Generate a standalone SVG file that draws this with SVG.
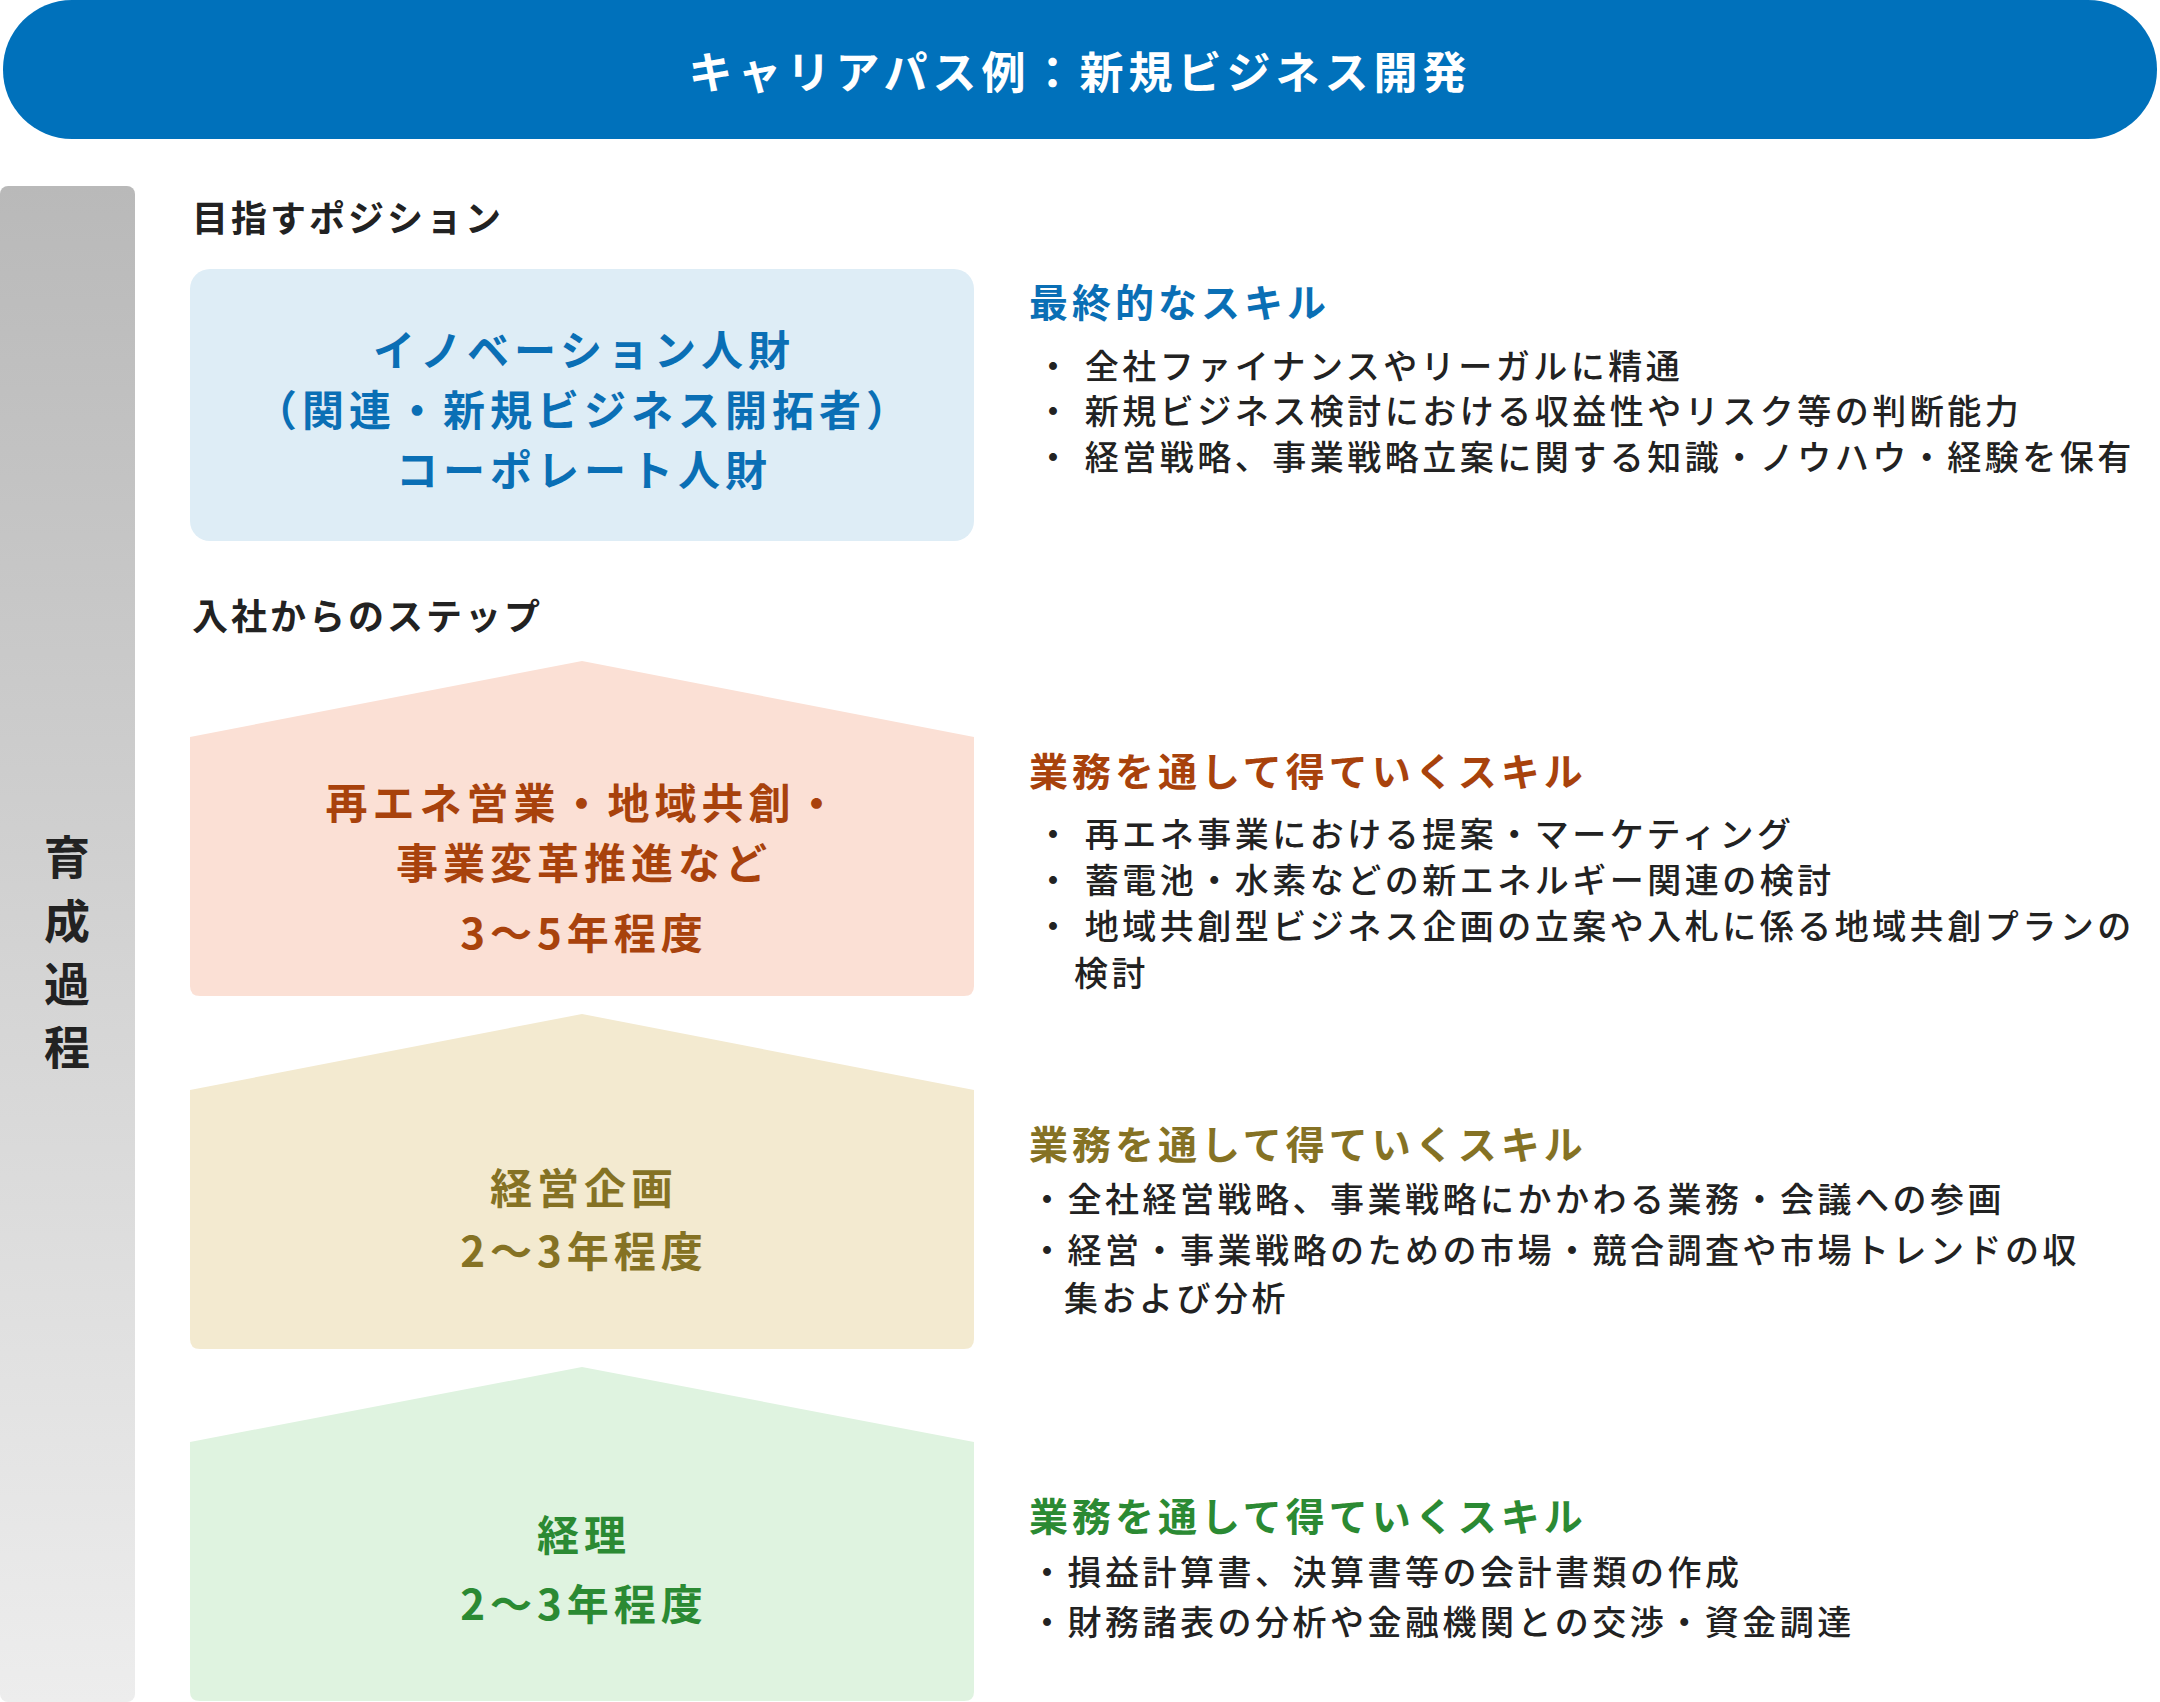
<svg xmlns="http://www.w3.org/2000/svg" width="2160" height="1702" viewBox="0 0 2160 1702">
<style>
text{font-family:"Noto Sans CJK JP","Noto Sans",sans-serif;font-weight:700;dominant-baseline:central}
.sec{font-size:36px;fill:#222;letter-spacing:3px}
.nd{font-size:42px;text-anchor:middle;letter-spacing:5px}
.hd{font-size:39px;letter-spacing:4px}
.bl{font-size:34px;fill:#222;letter-spacing:3.5px;font-weight:500}
</style>
<defs>
<linearGradient id="g" x1="0" y1="0" x2="0" y2="1"><stop offset="0" stop-color="#b9b9b9"/><stop offset="1" stop-color="#ededed"/></linearGradient>
</defs>
<rect width="2160" height="1702" fill="#fff"/>
<g id="header"><rect x="3" y="0" width="2154" height="139" rx="69" fill="#0071bb"/>
<text x="1080" y="70" text-anchor="middle" font-size="44" fill="#fff" letter-spacing="5">キャリアパス例：新規ビジネス開発</text></g>
<g id="bar"><rect x="0" y="186" width="135" height="1516" rx="8" fill="url(#g)"/>
<text x="67" y="854" text-anchor="middle" font-size="46" fill="#222">育</text>
<text x="67" y="918" text-anchor="middle" font-size="46" fill="#222">成</text>
<text x="67" y="981" text-anchor="middle" font-size="46" fill="#222">過</text>
<text x="67" y="1044" text-anchor="middle" font-size="46" fill="#222">程</text></g>
<text class="sec" x="192" y="216">目指すポジション</text>
<text class="sec" x="192" y="614">入社からのステップ</text>
<g id="goal"><rect x="190" y="269" width="784" height="272" rx="20" fill="#deedf6"/>
<text class="nd" fill="#0a6fb5" x="584" y="347">イノベーション人財</text>
<text class="nd" fill="#0a6fb5" x="584" y="407">（関連・新規ビジネス開拓者）</text>
<text class="nd" fill="#0a6fb5" x="584" y="467">コーポレート人財</text></g>
<g id="step3"><path d="M190 737 L582 661 L974 737 V986 Q974 996 964 996 H200 Q190 996 190 986 Z" fill="#fbe0d5"/>
<text class="nd" fill="#a8420c" x="584" y="800">再エネ営業・地域共創・</text>
<text class="nd" fill="#a8420c" x="584" y="860">事業変革推進など</text>
<text class="nd" fill="#a8420c" x="584" y="930">3～5年程度</text></g>
<g id="step2"><path d="M190 1090 L582 1014 L974 1090 V1339 Q974 1349 964 1349 H200 Q190 1349 190 1339 Z" fill="#f3ead0"/>
<text class="nd" fill="#857224" x="584" y="1185">経営企画</text>
<text class="nd" fill="#857224" x="584" y="1248">2～3年程度</text></g>
<g id="step1"><path d="M190 1442 L582 1367 L974 1442 V1692 Q974 1701 964 1701 H200 Q190 1701 190 1692 Z" fill="#dff3e0"/>
<text class="nd" fill="#2b8a33" x="584" y="1532">経理</text>
<text class="nd" fill="#2b8a33" x="584" y="1601">2～3年程度</text></g>
<g id="skills-goal">
<text class="hd" fill="#0a6fb5" x="1029" y="300">最終的なスキル</text>
<text class="bl" x="1036" y="364">・ 全社ファイナンスやリーガルに精通</text>
<text class="bl" x="1036" y="409">・ 新規ビジネス検討における収益性やリスク等の判断能力</text>
<text class="bl" x="1036" y="455">・ 経営戦略、事業戦略立案に関する知識・ノウハウ・経験を保有</text></g>
<g id="skills-3">
<text class="hd" fill="#a8420c" x="1029" y="769">業務を通して得ていくスキル</text>
<text class="bl" x="1036" y="832">・ 再エネ事業における提案・マーケティング</text>
<text class="bl" x="1036" y="878">・ 蓄電池・水素などの新エネルギー関連の検討</text>
<text class="bl" x="1036" y="924">・ 地域共創型ビジネス企画の立案や入札に係る地域共創プランの</text>
<text class="bl" x="1074" y="971">検討</text></g>
<g id="skills-2">
<text class="hd" fill="#857224" x="1029" y="1142">業務を通して得ていくスキル</text>
<text class="bl" x="1030" y="1197">・全社経営戦略、事業戦略にかかわる業務・会議への参画</text>
<text class="bl" x="1030" y="1248">・経営・事業戦略のための市場・競合調査や市場トレンドの収</text>
<text class="bl" x="1064" y="1296">集および分析</text></g>
<g id="skills-1">
<text class="hd" fill="#2b8a33" x="1029" y="1514">業務を通して得ていくスキル</text>
<text class="bl" x="1030" y="1570">・損益計算書、決算書等の会計書類の作成</text>
<text class="bl" x="1030" y="1620">・財務諸表の分析や金融機関との交渉・資金調達</text></g>
<g id="connectors"></g>
</svg>
